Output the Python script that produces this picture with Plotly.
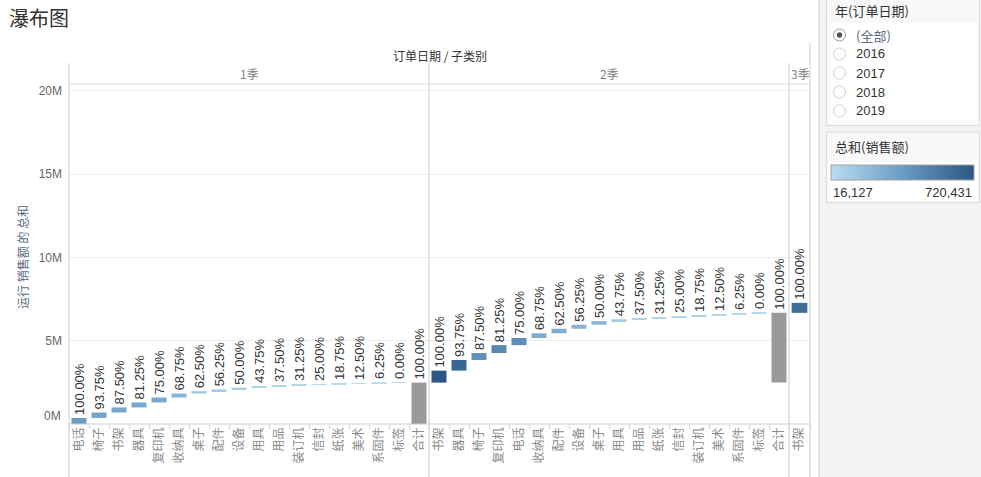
import plotly.graph_objects as go

W, H = 981, 477

# ---------------- data ----------------
chart_title = "瀑布图"
header_title = "订单日期 / 子类别"
y_title = "运行 销售额 的 总和"
panel_names = ["1季", "2季", "3季"]
total_label = "合计"

q1_cats = ["电话", "椅子", "书架", "器具", "复印机", "收纳具", "桌子", "配件", "设备",
           "用具", "用品", "装订机", "信封", "纸张", "美术", "系固件", "标签"]
q1_sales = [365000, 325000, 305000, 300000, 295000, 240000, 140000, 110000, 100000,
            68000, 52000, 48000, 42000, 36000, 25000, 18000, 16127]
q1_pct = ["100.00%", "93.75%", "87.50%", "81.25%", "75.00%", "68.75%", "62.50%", "56.25%",
          "50.00%", "43.75%", "37.50%", "31.25%", "25.00%", "18.75%", "12.50%", "6.25%", "0.00%"]

q2_cats = ["书架", "器具", "椅子", "复印机", "电话", "收纳具", "配件", "设备", "桌子",
           "用具", "用品", "纸张", "信封", "装订机", "美术", "系固件", "标签"]
q2_sales = [720431, 640000, 420000, 470000, 430000, 280000, 275000, 240000, 220000,
            110000, 70000, 60000, 55000, 70000, 55000, 40000, 35000]
q2_pct = ["100.00%", "93.75%", "87.50%", "81.25%", "75.00%", "68.75%", "62.50%", "56.25%",
          "50.00%", "43.75%", "37.50%", "31.25%", "25.00%", "18.75%", "12.50%", "6.25%", "0.00%"]

q3_cats = ["书架"]
q3_sales = [600000]
q3_pct = ["100.00%"]

total_pct = "100.00%"

y_tickvals = [5e6, 10e6, 15e6, 20e6]
y_ticktext = ["5M", "10M", "15M", "20M"]
zero_label = "0M"

filter_title = "年(订单日期)"
filter_items = ["(全部)", "2016", "2017", "2018", "2019"]
legend_title = "总和(销售额)"
color_min, color_max = 16127, 720431
legend_min_text, legend_max_text = "16,127", "720,431"

# ---------------- helpers ----------------
def X(p):
    return p / W

def Y(p):
    return 1 - p / H

FONT = "Liberation Sans, Arial, Noto Sans CJK SC, sans-serif"
CJK = "Noto Sans CJK SC, Liberation Sans, sans-serif"

panels = [
    (q1_cats, q1_sales, q1_pct, True, (69, 429)),
    (q2_cats, q2_sales, q2_pct, True, (429, 789)),
    (q3_cats, q3_sales, q3_pct, False, (789, 810)),
]

fig = go.Figure()
running = 0.0
layout_axes = {}
for i, (cats, sales, pct, has_total, (d0, d1)) in enumerate(panels):
    axname = "x" if i == 0 else f"x{i+1}"
    bases = []
    start = running
    for v in sales:
        bases.append(running)
        running += v
    fig.add_trace(go.Bar(
        x=cats, y=sales, base=bases, xaxis=axname, yaxis="y",
        marker=dict(color=sales, coloraxis="coloraxis", line=dict(width=0)),
        width=0.75, text=pct, textposition="outside", textangle=-90,
        textfont=dict(size=13, color="#333333", family=FONT),
        constraintext="none", cliponaxis=False, showlegend=False,
        hoverinfo="x+y",
    ))
    catarray = list(cats)
    if has_total:
        catarray.append(total_label)
        fig.add_trace(go.Bar(
            x=[total_label], y=[running - start], base=[start], xaxis=axname, yaxis="y",
            marker=dict(color="#9a9a9a", line=dict(width=0)),
            width=0.75, text=[total_pct], textposition="outside", textangle=-90,
            textfont=dict(size=13, color="#333333", family=FONT),
            constraintext="none", cliponaxis=False, showlegend=False,
        ))
    key = "xaxis" if i == 0 else f"xaxis{i+1}"
    layout_axes[key] = dict(
        domain=[X(d0), X(d1)], anchor="y", type="category",
        categoryorder="array", categoryarray=catarray,
        range=[-0.5, len(catarray) - 0.5],
        tickson="boundaries", ticks="outside", ticklen=4, tickwidth=1,
        tickcolor="#d4d4d4", tickangle=-90,
        tickfont=dict(size=12, color="#8a8a8a", family=CJK),
        showgrid=False, zeroline=False, showline=False, fixedrange=True,
    )

fig.update_layout(**layout_axes)
fig.update_layout(
    width=W, height=H, autosize=False,
    margin=dict(l=0, r=0, t=0, b=0),
    paper_bgcolor="white", plot_bgcolor="rgba(0,0,0,0)",
    barmode="overlay",
    font=dict(family=FONT, color="#333333"),
    yaxis=dict(
        domain=[Y(424), Y(84)], anchor="x", range=[0, 20.42e6],
        tickvals=y_tickvals, ticktext=y_ticktext, ticks="",
        ticklabelstandoff=6, tickfont=dict(size=12, color="#666666", family=FONT),
        showgrid=True, gridcolor="#ececec", gridwidth=1, zeroline=False,
        showline=False, fixedrange=True,
    ),
    coloraxis=dict(
        cmin=color_min, cmax=color_max,
        colorscale=[[0, "#b9ddf1"], [0.5, "#6a9bc3"], [1, "#2a5783"]],
        showscale=True,
        colorbar=dict(
            orientation="h", x=X(902.5), xanchor="center", y=Y(173.5), yanchor="middle",
            len=143, lenmode="pixels", thickness=15, thicknessmode="pixels",
            outlinecolor="#a0a0a0", outlinewidth=1, showticklabels=False, ticks="",
            xpad=0, ypad=0, title=dict(text=""),
        ),
    ),
)

shapes = []
line_col = "#cdcdcd"
# right side panel background
shapes.append(dict(type="rect", xref="paper", yref="paper", x0=X(819), x1=X(981), y0=Y(477), y1=Y(0),
                   fillcolor="#f3f3f3", line=dict(width=0), layer="below"))
shapes.append(dict(type="line", xref="paper", yref="paper", x0=X(819), x1=X(819), y0=Y(477), y1=Y(0),
                   line=dict(color="#d3d3d3", width=1)))
# cards
for (top, bot, hb) in [(-1, 125.3, 23), (132.3, 202.3, 162.3)]:
    shapes.append(dict(type="rect", xref="paper", yref="paper", x0=X(826.7), x1=X(979.3), y0=Y(bot), y1=Y(top),
                       fillcolor="white", line=dict(color="#d6d6d6", width=1)))
    shapes.append(dict(type="rect", xref="paper", yref="paper", x0=X(827.2), x1=X(978.8), y0=Y(hb), y1=Y(top + 0.5),
                       fillcolor="#f8f8f8", line=dict(width=0)))
# pane borders
for xv, ytop in [(69, 63), (429, 63), (789, 63), (810, 43)]:
    shapes.append(dict(type="line", xref="paper", yref="paper", x0=X(xv), x1=X(xv), y0=Y(477), y1=Y(ytop),
                       line=dict(color=line_col, width=1)))
shapes.append(dict(type="line", xref="paper", yref="paper", x0=X(69), x1=X(810), y0=Y(84), y1=Y(84),
                   line=dict(color="#d9d9d9", width=1)))
shapes.append(dict(type="line", xref="paper", yref="paper", x0=X(69), x1=X(810), y0=Y(424), y1=Y(424),
                   line=dict(color=line_col, width=1)))
# radio buttons
for i, _ in enumerate(filter_items):
    cy = 35 + 19 * i
    shapes.append(dict(type="circle", xref="paper", yref="paper", x0=X(833.5), x1=X(845.5),
                       y0=Y(cy + 6), y1=Y(cy - 6), fillcolor="white",
                       line=dict(color="#9a9a9a" if i == 0 else "#d0d0d0", width=1)))
    if i == 0:
        shapes.append(dict(type="circle", xref="paper", yref="paper", x0=X(836.8), x1=X(842.2),
                           y0=Y(cy + 2.7), y1=Y(cy - 2.7), fillcolor="#555555", line=dict(width=0)))
fig.update_layout(shapes=shapes)

ann = []
def add(text, x, y, size=12, color="#333333", xanchor="center", yanchor="middle", angle=0, fam=CJK, xref="paper", yref="paper", yshift=0):
    ann.append(dict(text=text, x=x, y=y, xref=xref, yref=yref, showarrow=False,
                    xanchor=xanchor, yanchor=yanchor, textangle=angle, yshift=yshift,
                    font=dict(size=size, color=color, family=fam)))

add(chart_title, X(7), Y(18), size=20, color="#333333", xanchor="left")
add(header_title, X(440), Y(55), size=12, color="#333333")
add(panel_names[0], X(249), Y(73), size=12, color="#808080")
add(panel_names[1], X(609), Y(73), size=12, color="#808080")
add(panel_names[2], X(800), Y(73), size=12, color="#808080")
add(y_title, X(22), Y(257), size=12, color="#5a6a80", angle=-90)
add(zero_label, X(63), 0, size=12, color="#666666", xanchor="right", fam=FONT, yref="y", yshift=8)
add(filter_title, X(833), Y(11), size=13, color="#333333", xanchor="left")
for i, t in enumerate(filter_items):
    add(t, X(854), Y(35 + 19 * i), size=13, color="#5f6b7e" if i == 0 else "#333333", xanchor="left", fam=FONT if i else CJK)
add(legend_title, X(833), Y(147), size=13, color="#333333", xanchor="left")
add(legend_min_text, X(831), Y(192), size=13, color="#333333", xanchor="left", fam=FONT)
add(legend_max_text, X(974), Y(192), size=13, color="#333333", xanchor="right", fam=FONT)
fig.update_layout(annotations=ann)

fig.write_html("out.html")
